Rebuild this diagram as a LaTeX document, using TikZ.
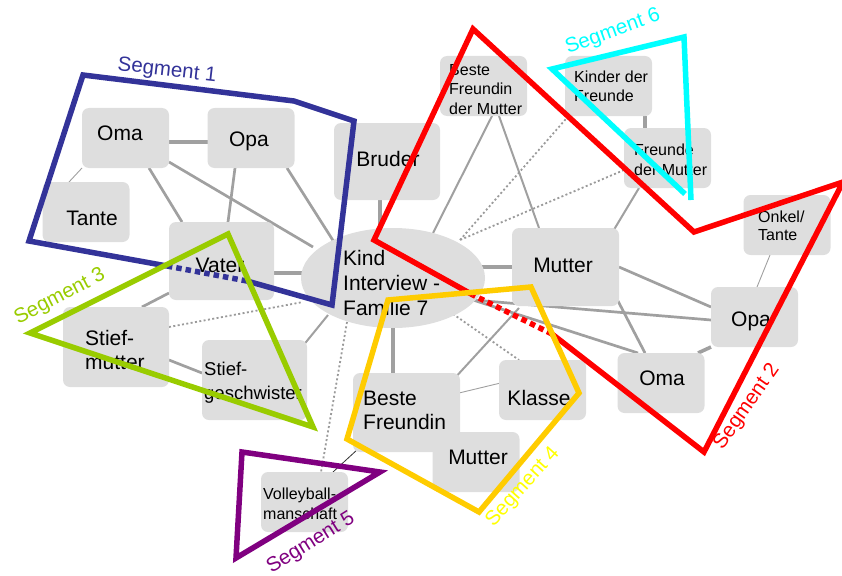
\documentclass[tikz,border=0pt]{standalone}
\usepackage{fontspec}
\setmainfont{Liberation Sans}
\usetikzlibrary{calc,shapes.geometric}
\definecolor{boxgray}{HTML}{DEDEDE}
\definecolor{linkgray}{HTML}{A0A0A0}
\definecolor{dotgray}{HTML}{9A9A9A}
\definecolor{segnavy}{HTML}{333399}
\definecolor{segred}{HTML}{FF0000}
\definecolor{seggreen}{HTML}{99CC00}
\definecolor{seggold}{HTML}{FFCC00}
\definecolor{segyellow}{HTML}{FFFF00}
\definecolor{segpurple}{HTML}{800080}
\definecolor{segcyan}{HTML}{00FFFF}
\pgfdeclarelayer{bg}
\pgfsetlayers{bg,main}
\begin{document}
\begin{tikzpicture}[x=1pt,y=-1pt,
  box/.style={rectangle, rounded corners=7pt, fill=boxgray, inner sep=0pt},
  sbox/.style={box, minimum width=87pt, minimum height=60pt},
  lbox/.style={box, minimum width=106pt, minimum height=78pt},
  big/.style={inner sep=0pt, align=left, font=\fontsize{21}{25}\selectfont},
  word/.style={big, anchor=base},
  lines/.style={big, anchor=west},
  small/.style={inner sep=0pt, align=left, anchor=west, font=\fontsize{16}{19.4}\selectfont},
  link/.style={draw=linkgray, line width=2.7pt},
  heavy/.style={draw=linkgray, line width=3.6pt},
  medium/.style={draw=linkgray, line width=2pt},
  fine/.style={draw=linkgray, line width=0.9pt},
  dots/.style={draw=dotgray, line width=1.8pt, dash pattern=on 2pt off 2.4pt},
  seg/.style={line width=5.5pt},
  segdash/.style={seg, dash pattern=on 5.5pt off 4pt},
  seglabel/.style={font=\fontsize{20.5}{24}\selectfont, inner sep=0pt}]

\useasboundingbox (0,0) rectangle (842,575);

% ---- boxes of persons and groups ----
\node[sbox] (omaL)   at (125.5,138) {};
\node[sbox] (opaL)   at (251,138)   {};
\node[sbox] (tante)  at (86,212)    {};
\node[lbox, minimum width=105pt] (vater) at (221.5,261) {};
\node[lbox, minimum height=77pt] (bruder) at (387,161.5) {};
\node[ellipse, fill=boxgray, inner sep=0pt, minimum width=184pt, minimum height=100pt] (kind) at (393,278) {};
\node[lbox, minimum height=80pt] (stiefm) at (116,347) {};
\node[lbox, minimum width=105pt, minimum height=80pt] (stiefg) at (254.5,380) {};
\node[sbox] (volley) at (304.5,502) {};
\node[lbox, minimum width=107pt, minimum height=79pt] (bfreundin) at (406.5,412.5) {};
\node[sbox] (mutterU) at (476,462)  {};
\node[sbox] (klasse)  at (542.5,390) {};
\node[lbox, minimum width=107pt] (mutterR) at (565.5,267) {};
\node[sbox] (opaR)    at (754.5,317) {};
\node[sbox] (omaR)    at (661,383)   {};
\node[sbox] (bfm)     at (483.5,86)  {};
\node[sbox] (kdf)     at (608.5,86)  {};
\node[sbox] (fdm)     at (667.5,158) {};
\node[sbox] (onkel)   at (787,225)   {};

% ---- their labels ----
\node[word] (omaLt)    at (120,140.7) {Oma};
\node[word] (opaLt)    at (249,146.5) {Opa};
\node[word] (tantet)   at (92,225.5)  {Tante};
\node[word] (vatert)   at (220,272.5) {Vater};
\node[word] (brudert)  at (388,166)   {Bruder};
\node[lines] (kindt)   at (343,283)   {Kind\\Interview -\\Familie 7};
\node[lines, font=\fontsize{21}{24}\selectfont] (stiefmt) at (85,349.5) {Stief-\\mutter};
\node[lines, font=\fontsize{18.5}{24}\selectfont] (stiefgt) at (204,383.2) {Stief-\\geschwister};
\node[small, font=\fontsize{16}{20}\selectfont] (volleyt) at (263,503.5) {Volleyball-\\manschaft};
\node[lines, font=\fontsize{21}{24.5}\selectfont] (bfreundint) at (363,410.2) {Beste\\Freundin};
\node[word] (mutterUt) at (478,464)   {Mutter};
\node[word] (klasset)  at (539,405)   {Klasse};
\node[word] (mutterRt) at (563,272)   {Mutter};
\node[word] (opaRt)    at (751,326)   {Opa};
\node[word] (omaRt)    at (662,385)   {Oma};
\node[small] (bfmt)    at (449,89.2)  {Beste\\Freundin\\der Mutter};
\node[small] (kdft)    at (574,86.2)  {Kinder der\\Freunde};
\node[small] (fdmt)    at (634,159.6) {Freunde\\der Mutter};
\node[small, font=\fontsize{16}{18.4}\selectfont] (onkelt) at (758,225.6) {Onkel/\\Tante};

% ---- relations ----
\begin{pgfonlayer}{bg}
\draw[heavy]  ($(omaL)+(43.5,4)$)     -- ($(opaL)+(-43,4)$);
\draw[link]   ($(omaL)+(23.5,30)$)    -- ($(vater)+(-39.5,-39)$);
\draw[link]   ($(omaL)+(43.5,24)$)    -- ($(kind)+(-80,-31)$);
\draw[link]   ($(opaL)+(-16,30)$)     -- ($(vater)+(6.5,-39)$);
\draw[link]   ($(opaL)+(36,30)$)      -- ($(kind)+(-59,-36)$);
\draw[fine]   ($(omaL)+(-43.5,30)$)   -- ($(tante)+(-17,-30)$);
\draw[heavy]  ($(vater)+(52.5,12)$)   -- ($(kind)+(-91,-5)$);
\draw[link]   ($(vater)+(-52.5,32)$)  -- ($(stiefm)+(26,-40)$);
\draw[link]   ($(stiefm)+(53,13)$)    -- ($(stiefg)+(-52.5,-7)$);
\draw[dots]   ($(stiefm)+(53,-20)$)   -- ($(kind)+(-90,24)$);
\draw[medium] ($(stiefg)+(47.5,-33)$) -- ($(kind)+(-65,37)$);
\draw[dots]   ($(kind)+(-46,44)$)     -- ($(volley)+(16.5,-30)$);
\draw[draw=black!80, line width=0.8pt] ($(bfreundin)+(-48.5,36.5)$) -- ($(volley)+(28.5,-30)$);
\draw[heavy]  ($(bruder)+(-7,38.5)$)  -- ($(kind)+(-13,-49)$);
\draw[heavy]  ($(kind)+(87,-11)$)     -- ($(mutterR)+(-53.5,0)$);
\draw[heavy]  ($(kind)+(0,49)$)       -- ($(bfreundin)+(-13.5,-39.5)$);
\draw[link]   ($(kind)+(80,22)$)      -- ($(opaR)+(-43.5,3)$);
\draw[link]   ($(kind)+(80,22)$)      -- ($(omaR)+(-23,-30)$);
\draw[link]   ($(mutterR)+(53.5,0)$)  -- ($(opaR)+(-43.5,-10)$);
\draw[link]   ($(mutterR)+(52.5,34)$) -- ($(omaR)+(-16,-30)$);
\draw[heavy]  ($(opaR)+(-43.5,30)$)   -- ($(omaR)+(37,-30)$);
\draw[fine]   ($(opaR)+(2.5,-30)$)    -- ($(onkel)+(-17,30)$);
\draw[medium] ($(mutterR)+(-46.5,41)$) -- ($(bfreundin)+(46.5,-32.5)$);
\draw[dots]   ($(kind)+(60,36)$)      -- ($(klasse)+(-23.5,-30)$);
\draw[fine]   ($(bfreundin)+(52.5,-19.5)$) -- ($(klasse)+(-29.5,-10)$);
\draw[medium] ($(bfm)+(8.5,30)$)      -- ($(kind)+(40,-45)$);
\draw[medium] ($(bfm)+(15.5,30)$)     -- ($(mutterR)+(-26.5,-39)$);
\draw[dots]   ($(kdf)+(-40,30)$)      -- ($(kind)+(67,-38)$);
\draw[dots]   ($(fdm)+(-43.5,12)$)    -- ($(kind)+(67,-38)$);
\draw[heavy]  ($(kdf)+(36.5,30)$)     -- ($(fdm)+(-22.5,-30)$);
\draw[medium] ($(fdm)+(-28.5,30)$)    -- ($(mutterR)+(46.5,-34)$);
\end{pgfonlayer}

% ---- segments ----
% Segment 1
\draw[seg, segnavy] (167,266) -- (29,241) -- (83,75) -- (294,101) -- (354,121) -- (332,305) -- (247,281);
\draw[segdash, segnavy] (247,281) -- (167,266);
\node[seglabel, text=segnavy, rotate=-6.5] (lab1) at (167,71) {Segment 1};
% Segment 2
\draw[seg, segred] (473,295) -- (374,240) -- (473,29) -- (694,232) -- (843,182) -- (704,452) -- (552,334);
\draw[segdash, segred] (552,334) -- (473,295);
\node[seglabel, text=segred, rotate=55] (lab2) at (747,407) {Segment 2};
% Segment 3
\draw[seg, seggreen] (30,333) -- (228,234) -- (313,427) -- cycle;
\node[seglabel, text=seggreen, rotate=27.5] (lab3) at (60,297) {Segment 3};
% Segment 4
\draw[seg, seggold] (388,300) -- (531,287) -- (579,393) -- (479,512) -- (347,439) -- cycle;
\node[seglabel, text=segyellow, rotate=48] (lab4) at (523,487) {Segment 4};
% Segment 5
\draw[seg, segpurple] (242,452) -- (380,472) -- (236,558) -- cycle;
\node[seglabel, text=segpurple, rotate=32] (lab5) at (311,543) {Segment 5};
% Segment 6
\draw[seg, segcyan] (691,200) -- (684,37) -- (552,69) -- (685,194);
\node[seglabel, text=segcyan, rotate=20] (lab6) at (613,32) {Segment 6};
\end{tikzpicture}
\end{document}
